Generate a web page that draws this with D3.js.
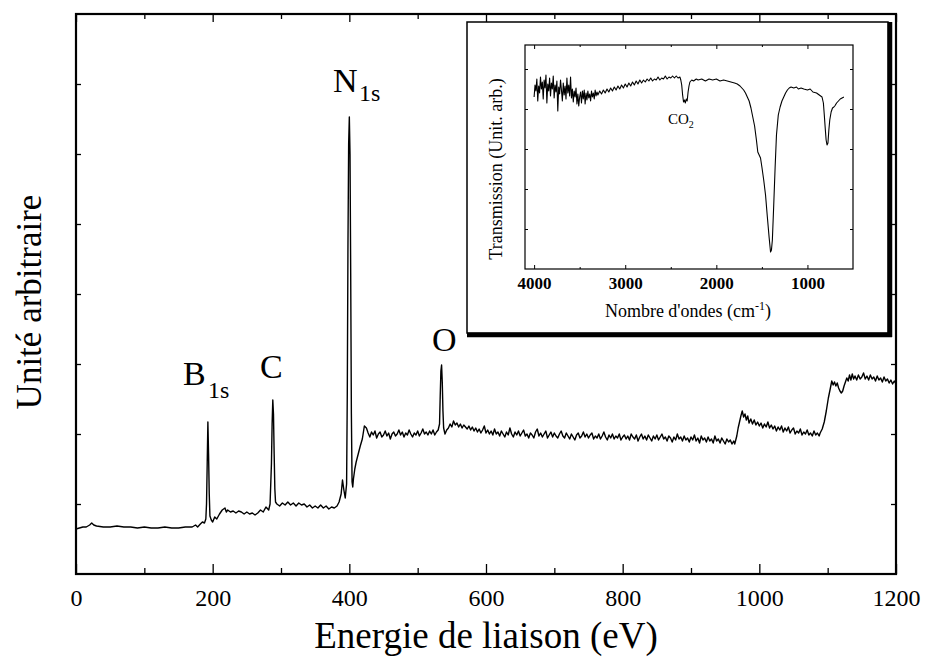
<!DOCTYPE html>
<html><head><meta charset="utf-8">
<script src="https://cdn.jsdelivr.net/npm/d3@7"></script>
<style>
body{margin:0;background:#fff}
svg{display:block}
text{font-family:"Times New Roman","Liberation Serif",serif;fill:#000}
</style>
</head><body>
<svg id="chart" width="926" height="657"></svg>
<script>
// ---- XPS survey spectrum: [binding energy (eV), intensity (arb.)]
const xpsSpectrum = [
[0,45],[5,46],[10,47],[15,47],[20,49],[23,51],[26,49],[30,48],[40,47],[50,47],[60,48],[70,47],[80,47],[90,46],[100,47],
[110,46],[120,46],[130,47],[140,46],[150,46],[160,47],[170,47],[175,49],[178,47],[182,50],[185,52],[188,51],[190,55],
[191,70],[192,110],[193,152],[194,120],[195,80],[196,58],[198,54],[200,52],[203,57],[206,55],[210,60],[214,64],[218,66],
[220,62],[222,64],[226,62],[230,63],[234,61],[238,63],[242,62],[246,60],[250,62],[254,60],[258,61],[262,59],[266,61],[270,64],
[274,62],[278,67],[282,64],[284,70],[286,110],[287,150],[288,174],[289,160],[290,120],[291,85],[292,72],[294,70],[298,68],
[302,71],[306,69],[310,72],[314,69],[318,71],[322,68],[326,71],[330,69],[334,70],[338,67],[342,69],[346,66],[350,68],
[354,66],[358,69],[362,66],[366,68],[370,65],[374,67],[378,66],[382,68],[385,72],[388,80],[390,94],[392,84],[394,76],
[396,90],[397,180],[398,330],[399,430],[400,457],[401,420],[402,300],[403,160],[404,92],[405,87],[406,95],[408,105],
[410,112],[413,120],[416,128],[419,135],[422,148],
[425,146],[427.5,141],[430,137],[432.5,142],[435,139],[437.5,143],[440,136],[442.5,140],[445,142],[447.5,137],[450,139],
[452.5,143],[455,138],[457.5,141],[460,135],[462.5,140],[465,142],[467.5,138],[470,140],[472.5,144],[475,139],[477.5,142],
[480,137],[482.5,141],[485,139],[487.5,144],[490,140],[492.5,137],[495,141],[497.5,139],[500,143],[502.5,138],[505,141],
[507.5,145],[510,140],[512.5,142],[515,139],[517.5,143],[520,140],[522.5,144],[525,139],[527.5,142],[530,144],
[532,150],[533,178],[534,203],[535,209],[536,192],[537,163],[538,146],[540,140],
[542.5,144],[545,146],[547.5,150],[550,147],[552.5,153],[555,149],[557.5,151],[560,147],[562.5,150],[565,146],[567.5,149],
[570,147],[572.5,145],[575,148],[577.5,144],[580,147],[582.5,143],[585,146],[587.5,142],[590,145],[592.5,141],[595,144],
[597.5,148],[600,141],[602.5,144],[605,140],[607.5,143],[610,139],[612.5,145],[615,140],[617.5,142],[620,138],[622.5,143],
[625,140],[627.5,137],[630,142],[632.5,139],[635,146],[637.5,140],[640,137],[642.5,142],[645,139],[647.5,143],[650,138],
[652.5,141],[655,144],[657.5,138],[660,140],[662.5,136],[665,141],[667.5,139],[670,136],[672.5,142],[675,145],[677.5,138],
[680,141],[682.5,137],[685,140],[687.5,143],[690,136],[692.5,139],[695,142],[697.5,137],[700,141],[702.5,138],[705,136],
[707.5,140],[710,143],[712.5,138],[715,136],[717.5,141],[720,138],[722.5,135],[725,140],[727.5,137],[730,134],[732.5,139],
[735,141],[737.5,136],[740,138],[742.5,142],[745,137],[747.5,140],[750,136],[752.5,139],[755,141],[757.5,135],[760,138],
[762.5,136],[765,140],[767.5,135],[770,138],[772.5,142],[775,137],[777.5,134],[780,139],[782.5,136],[785,140],[787.5,135],
[790,138],[792.5,136],[795,140],[797.5,134],[800,137],[802.5,139],[805,135],[807.5,138],[810,134],[812.5,140],[815,137],
[817.5,135],[820,139],[822.5,133],[825,137],[827.5,140],[830,135],[832.5,138],[835,134],[837.5,139],[840,136],[842.5,133],
[845,138],[847.5,135],[850,139],[852.5,134],[855,137],[857.5,140],[860,135],[862.5,137],[865,133],[867.5,138],[870,136],
[872.5,132],[875,137],[877.5,134],[880,140],[882.5,135],[885,137],[887.5,133],[890,138],[892.5,134],[895,136],[897.5,132],
[900,137],[902.5,134],[905,139],[907.5,133],[910,136],[912.5,131],[915,138],[917.5,134],[920,136],[922.5,132],[925,137],
[927.5,133],[930,135],[932.5,131],[935,138],[937.5,133],[940,135],[942.5,131],[945,136],[947.5,133],[950,130],[952.5,135],
[955,132],[957.5,134],[960,130],[962.5,133],[964,130],
[967,138],[969,146],[971,152],[973,158],[975,163],[977,157],[979,160],[981,154],[983,158],[985,151],[987.5,155],[990,150],
[992.5,154],[995,149],[997.5,152],[1000,148],[1002.5,151],[1005,146],[1007.5,150],[1010,147],[1012.5,152],[1015,146],
[1017.5,149],[1020,145],[1022.5,148],[1025,143],[1027.5,147],[1030,144],[1032.5,148],[1035,142],[1037.5,146],[1040,143],
[1042.5,147],[1045,141],[1047.5,144],[1050,146],[1052.5,140],[1055,143],[1057.5,141],[1060,145],[1062.5,139],[1065,142],
[1067.5,140],[1070,144],[1072.5,139],[1075,141],[1077.5,138],[1080,143],[1082.5,139],[1085,141],[1087.5,138],[1089,141],
[1092,145],[1095,152],[1098,163],[1101,176],[1104,186],[1106,193],[1108,189],[1110,192],[1112,188],[1114,191],[1116,186],
[1118,183],[1120,181],[1122,183],[1124,188],[1126,192],[1128,196],[1130,193],[1132,199],[1134,194],[1136,200],[1138,195],
[1140,198],[1142.5,194],[1145,199],[1147.5,195],[1150,197],[1152.5,201],[1155,195],[1157.5,198],[1160,194],[1162.5,199],
[1165,195],[1167.5,197],[1170,193],[1172.5,198],[1175,194],[1177.5,196],[1180,192],[1182.5,197],[1185,193],[1187.5,195],
[1190,191],[1192.5,194],[1195,190],[1197.5,193],[1200,190]
];

// ---- FTIR inset spectrum: [wavenumber (cm-1), transmission (arb.)]
const irSpectrum = [
[4000,172],[3990,184],[3980,178],[3970,190],[3960,168],[3950,183],[3940,176],[3930,192],[3920,180],[3910,187],[3900,170],
[3890,189],[3880,181],[3870,194],[3860,166],[3850,185],[3840,178],[3830,191],[3820,173],[3810,186],[3800,180],[3790,193],
[3780,171],[3770,184],[3760,177],[3750,188],[3740,158],[3730,182],[3720,175],[3710,189],[3700,179],[3690,168],[3680,186],
[3670,174],[3660,183],[3650,170],[3640,191],[3630,176],[3620,184],[3610,173],[3600,192],[3590,171],[3580,180],[3570,167],
[3560,178],[3550,172],[3540,181],[3530,165],[3520,175],[3510,163],[3500,172],[3490,177],[3480,166],[3470,178],[3460,170],
[3450,179],[3440,165],[3430,176],[3420,169],[3410,178],[3400,171],[3390,175],[3380,168],[3370,178],[3360,172],[3350,176],
[3340,170],[3330,179],[3320,173],[3310,177],[3300,174],[3280,178],[3260,175],[3240,179],[3220,176],[3200,180],[3180,177],
[3160,181],[3140,178],[3120,182],[3100,179],[3080,183],[3060,180],[3040,184],[3020,181],[3000,185],[2980,182],[2960,186],
[2940,183],[2920,187],[2900,184],[2880,188],[2860,185],[2840,189],[2820,186],[2800,189],[2780,187],[2760,190],[2740,188],
[2720,191],[2700,188],[2680,190],[2660,189],[2640,192],[2620,189],[2600,191],[2580,190],[2560,193],[2540,190],[2520,192],
[2500,191],[2480,193],[2460,191],[2440,193],[2420,191],[2400,192],[2390,189],[2380,184],[2370,174],[2360,167],[2350,169],
[2340,166],[2330,170],[2320,168],[2310,177],[2300,183],[2290,187],[2270,189],[2250,188],[2220,190],[2200,189],[2160,190],
[2120,188],[2080,190],[2040,189],[2000,190],[1960,188],[1920,189],[1880,188],[1840,187],[1800,186],[1770,185],[1740,183],
[1720,181],[1700,179],[1680,176],[1660,172],[1640,168],[1620,161],[1600,152],[1580,143],[1560,129],[1545,117],[1530,114],
[1515,111],[1500,102],[1480,89],[1460,74],[1440,52],[1420,31],[1405,17],[1395,19],[1385,29],[1370,64],[1355,101],[1340,134],
[1320,154],[1300,162],[1280,168],[1260,172],[1240,176],[1220,179],[1200,181],[1180,182],[1150,181],[1120,182],[1100,180],
[1070,181],[1040,180],[1000,179],[970,180],[940,177],[900,176],[870,174],[840,172],[825,166],[815,154],[805,141],[795,129],
[785,124],[775,126],[765,139],[755,149],[740,157],[725,161],[710,162],[700,163],[680,166],[660,168],[640,170],[620,171],
[600,172]
];

const xTicksMajor = [0,200,400,600,800,1000,1200];
const xTicksMinor = [100,300,500,700,900,1100];
const yTicksMain = [70,140,210,280,350,420,490];
const irTicksMajor = [4000,3000,2000,1000];
const irTicksMinor = [3500,2500,1500];
const irTicksY = [40,80,120,160,200];
const peakNames = ["B","C","N","O"];
const peakSubs = ["1s","","1s",""];

const svg = d3.select("#chart");
svg.append("rect").attr("width",926).attr("height",657).attr("fill","#fff");

// ---------- main plot ----------
const L=76, R=896, T=14, B=574;
const x = d3.scaleLinear().domain([0,1200]).range([L,R]);
const y = d3.scaleLinear().domain([0,560]).range([B,T]);

const line = d3.line().x(d=>x(d[0])).y(d=>y(d[1]));
svg.append("path").datum(xpsSpectrum).attr("d",line)
  .attr("fill","none").attr("stroke","#000").attr("stroke-width",1.4).attr("stroke-linejoin","round");

function styleAxis(g){ g.select(".domain").remove(); g.selectAll("line").attr("stroke","#000").attr("stroke-width",1.3); }

svg.append("g").attr("transform",`translate(0,${B})`)
  .call(d3.axisBottom(x).tickValues(xTicksMajor).tickSize(-10).tickPadding(15).tickFormat(d3.format("d")))
  .call(styleAxis)
  .call(g=>g.selectAll("text").attr("font-size",24));
svg.append("g").attr("transform",`translate(0,${B})`)
  .call(d3.axisBottom(x).tickValues(xTicksMinor).tickSize(-6).tickFormat(""))
  .call(styleAxis);
svg.append("g").attr("transform",`translate(0,${T})`)
  .call(d3.axisTop(x).tickValues(xTicksMajor).tickSize(-8).tickFormat(""))
  .call(styleAxis);
svg.append("g").attr("transform",`translate(0,${T})`)
  .call(d3.axisTop(x).tickValues(xTicksMinor).tickSize(-5).tickFormat(""))
  .call(styleAxis);
svg.append("g").attr("transform",`translate(${L},0)`)
  .call(d3.axisLeft(y).tickValues(yTicksMain).tickSize(-5).tickFormat(""))
  .call(styleAxis);
svg.append("g").attr("transform",`translate(${R},0)`)
  .call(d3.axisRight(y).tickValues(yTicksMain).tickSize(-5).tickFormat(""))
  .call(styleAxis);

svg.append("rect").attr("x",L).attr("y",T).attr("width",R-L).attr("height",B-T)
  .attr("fill","none").attr("stroke","#000").attr("stroke-width",2.2);

svg.append("text").attr("x",(L+R)/2).attr("y",648).attr("text-anchor","middle")
  .attr("font-size",37).text("Energie de liaison (eV)");
svg.append("text").attr("transform","translate(41,302) rotate(-90)").attr("text-anchor","middle")
  .attr("font-size",35).text("Unité arbitraire");

// peak labels
const labelPos = [[183,385,208,398],[260,378,0,0],[333,92,359,101],[432,351,0,0]];
peakNames.forEach((n,i)=>{
  const p = labelPos[i];
  svg.append("text").attr("x",p[0]).attr("y",p[1]).attr("font-size",34).text(n);
  if(peakSubs[i]) svg.append("text").attr("x",p[2]).attr("y",p[3]).attr("font-size",24).text(peakSubs[i]);
});

// ---------- inset ----------
const iL=525, iR=853, iT=45, iB=269;
svg.append("rect").attr("x",467).attr("y",22).attr("width",421).attr("height",311)
  .attr("fill","#fff").attr("stroke","#000").attr("stroke-width",1.5);
svg.append("line").attr("x1",890).attr("x2",890).attr("y1",22).attr("y2",337).attr("stroke","#000").attr("stroke-width",4.5);
svg.append("line").attr("x1",467).attr("x2",892).attr("y1",335).attr("y2",335).attr("stroke","#000").attr("stroke-width",4.5);

const xi = d3.scaleLinear().domain([4100,500]).range([iL,iR]);
const yi = d3.scaleLinear().domain([0,224]).range([iB,iT]);

svg.append("path").datum(irSpectrum).attr("d",d3.line().x(d=>xi(d[0])).y(d=>yi(d[1])))
  .attr("fill","none").attr("stroke","#000").attr("stroke-width",1.1).attr("stroke-linejoin","round");

function styleI(g){ g.select(".domain").remove(); g.selectAll("line").attr("stroke","#000").attr("stroke-width",1); }
svg.append("g").attr("transform",`translate(0,${iB})`)
  .call(d3.axisBottom(xi).tickValues(irTicksMajor).tickSize(-4).tickPadding(8).tickFormat(d3.format("d")))
  .call(styleI)
  .call(g=>g.selectAll("text").attr("font-size",17).attr("font-weight","bold"));
svg.append("g").attr("transform",`translate(0,${iB})`)
  .call(d3.axisBottom(xi).tickValues(irTicksMinor).tickSize(-2).tickFormat("")).call(styleI);
svg.append("g").attr("transform",`translate(0,${iT})`)
  .call(d3.axisTop(xi).tickValues(irTicksMajor).tickSize(-4).tickFormat("")).call(styleI);
svg.append("g").attr("transform",`translate(0,${iT})`)
  .call(d3.axisTop(xi).tickValues(irTicksMinor).tickSize(-2).tickFormat("")).call(styleI);
svg.append("g").attr("transform",`translate(${iL},0)`)
  .call(d3.axisLeft(yi).tickValues(irTicksY).tickSize(-3).tickFormat("")).call(styleI);
svg.append("g").attr("transform",`translate(${iR},0)`)
  .call(d3.axisRight(yi).tickValues(irTicksY).tickSize(-3).tickFormat("")).call(styleI);

svg.append("rect").attr("x",iL).attr("y",iT).attr("width",iR-iL).attr("height",iB-iT)
  .attr("fill","none").attr("stroke","#000").attr("stroke-width",1.2);

const xt = svg.append("text").attr("x",688).attr("y",317).attr("text-anchor","middle").attr("font-size",18);
xt.append("tspan").text("Nombre d'ondes (cm");
xt.append("tspan").attr("dy",-7).attr("font-size",12).text("-1");
xt.append("tspan").attr("dy",7).text(")");

svg.append("text").attr("transform","translate(502,169) rotate(-90)").attr("text-anchor","middle")
  .attr("font-size",18).text("Transmission (Unit. arb.)");

const co = svg.append("text").attr("x",668).attr("y",124).attr("font-size",15);
co.append("tspan").text("CO");
co.append("tspan").attr("dy",4).attr("font-size",10).text("2");
</script>
</body></html>
